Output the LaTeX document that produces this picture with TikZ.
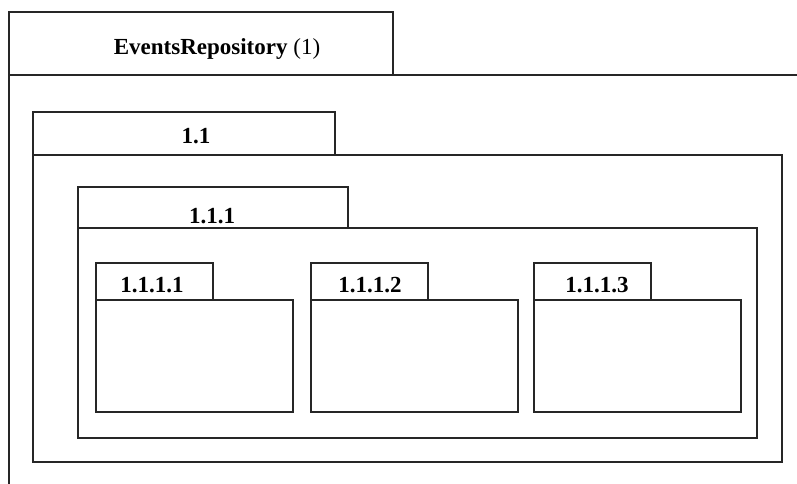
\documentclass[tikz,border=0pt]{standalone}
\usepackage{fontspec}
\setmainfont{Liberation Serif}
\begin{document}
\begin{tikzpicture}[x=1pt,y=-1pt,
  pkg/.style={draw=black!85,line width=2pt,line join=miter},
  lbl/.style={anchor=base,inner sep=0pt,font=\fontsize{23pt}{27pt}\selectfont\bfseries}]
\useasboundingbox (0,0) rectangle (797,484);
% outer package (cut by the picture edge)
\draw[pkg] (9,484) -- (9,12) -- (393,12) -- (393,75);
\draw[pkg] (9,75) -- (797,75);
\node[lbl] (er) at (217,55) {EventsRepository \mdseries(1)};
% 1.1
\draw[pkg] (33,155) rectangle (335,112);
\draw[pkg] (33,155) rectangle (782,462);
\node[lbl] (p11) at (196,143) {1.1};
% 1.1.1
\draw[pkg] (78,228) rectangle (348,187);
\draw[pkg] (78,228) rectangle (757,438);
\node[lbl] (p111) at (212,223) {1.1.1};
% 1.1.1.x
\draw[pkg] (96,300) rectangle (213,263);
\draw[pkg] (96,300) rectangle (293,412);
\node[lbl] (p1111) at (152,292) {1.1.1.1};
\draw[pkg] (311,300) rectangle (428,263);
\draw[pkg] (311,300) rectangle (518,412);
\node[lbl] (p1112) at (370,292) {1.1.1.2};
\draw[pkg] (534,300) rectangle (651,263);
\draw[pkg] (534,300) rectangle (741,412);
\node[lbl] (p1113) at (597,292) {1.1.1.3};
\end{tikzpicture}
\end{document}
